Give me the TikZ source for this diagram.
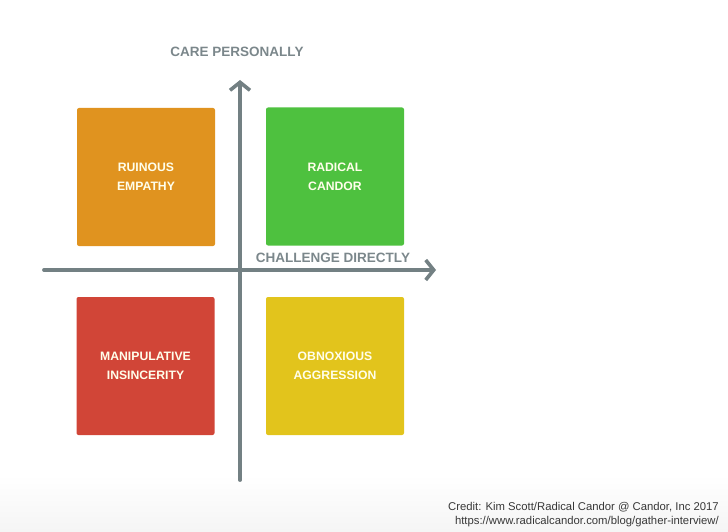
\documentclass[tikz,border=0pt]{standalone}
\usepackage{fontspec}
\setmainfont{Liberation Sans}
\usetikzlibrary{arrows.meta,positioning,calc}

\definecolor{ruinous}{HTML}{E0931F}
\definecolor{radical}{HTML}{4EC13F}
\definecolor{manipul}{HTML}{D14537}
\definecolor{obnox}{HTML}{E2C41C}
\definecolor{axisgray}{HTML}{738083}
\definecolor{labelgray}{HTML}{7B878B}

\begin{document}
\begin{tikzpicture}[x=1pt,y=1pt,
  every node/.style={inner sep=0pt},
  quad/.style={rounded corners=2pt,minimum width=138pt,minimum height=138pt,align=center,text=white!92!yellow,font=\bfseries\fontsize{12.2}{19}\selectfont},
  axislabel/.style={text=labelgray,font=\bfseries\fontsize{13.5}{16}\selectfont},
  axisline/.style={axisgray,line width=3.8pt,line cap=round,-{Straight Barb[length=8pt,width=20pt,line width=3.6pt]}}]
\useasboundingbox (0,0) rectangle (728,-532);
\shade[top color=white,bottom color=black!4] (0,-475) rectangle (728,-532);
\node[quad,fill=ruinous] (ruin) at (146,-177) {RUINOUS\\EMPATHY};
\node[quad,fill=radical] (cand) at (335,-176.5) {RADICAL\\CANDOR};
\node[quad,fill=manipul] (mani) at (145.5,-366) {MANIPULATIVE\\INSINCERITY};
\node[quad,fill=obnox] (obno) at (335,-366) {OBNOXIOUS\\AGGRESSION};
\coordinate (vbot) at (240,-480);
\coordinate (vtop) at (240,-80);
\coordinate (hleft) at (44,-270);
\coordinate (hright) at (436,-270);
\draw[axisline] (vbot) -- (vtop);
\draw[axisline] (hleft) -- (hright);
\node[axislabel] (care) at (237,-52) {CARE PERSONALLY};
\node[axislabel] (chal) at (333,-258) {CHALLENGE DIRECTLY};
\node[anchor=east,align=right,text=black!78,font=\fontsize{11.3}{14}\selectfont] (credit) at (719,-515) {Credit: Kim Scott/Radical Candor @ Candor, Inc 2017\\https://www.radicalcandor.com/blog/gather-interview/};
\end{tikzpicture}
\end{document}
